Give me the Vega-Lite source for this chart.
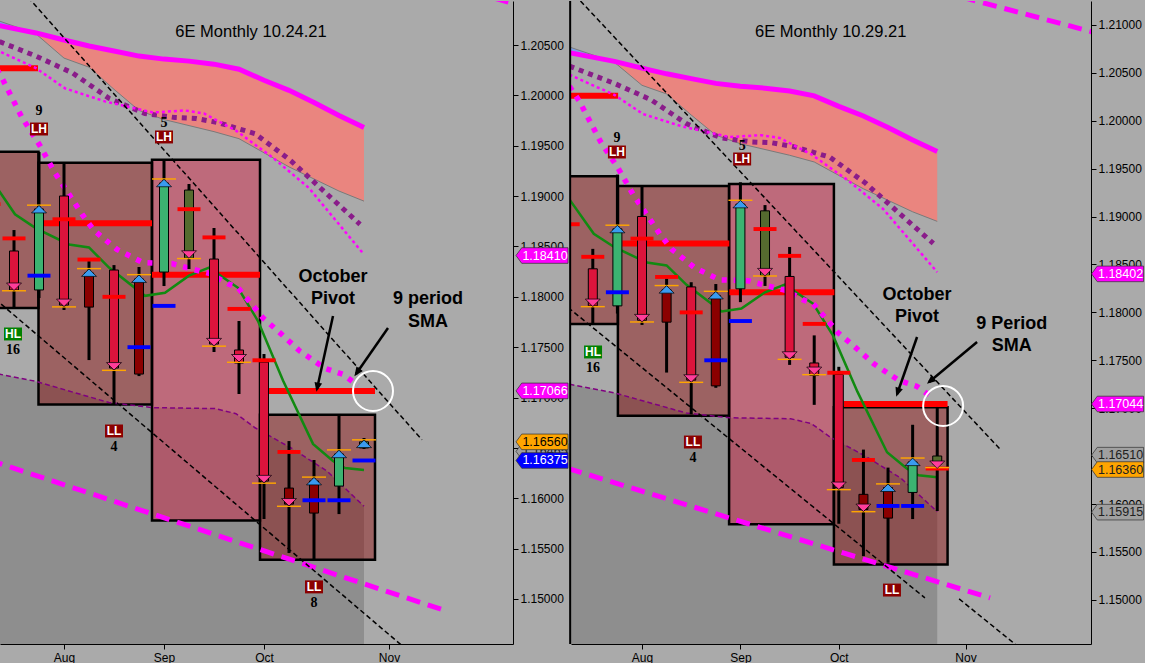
{
"$schema": "https://vega.github.io/schema/vega-lite/v6.json",
"background": "#AAAAAA",
"padding": 0,
"bounds": "flush",
"spacing": 58,
"resolve": {"scale": {"x": "independent", "y": "independent", "fill": "independent"}},
"datasets": {
"bandBlue": [{"i":-0.95,"v":1.2071,"v2":1.2077},{"i":0.88,"v":1.2062,"v2":1.2061}],
"band": [{"i":0.88,"v":1.2062,"v2":1.2061},{"i":2,"v":1.2055,"v2":1.2037},{"i":3,"v":1.2049,"v2":1.2028},{"i":4,"v":1.2044,"v2":1.2006},{"i":5,"v":1.2039,"v2":1.1985},{"i":6,"v":1.2036,"v2":1.1976},{"i":7,"v":1.2034,"v2":1.1970},{"i":8,"v":1.2031,"v2":1.1964},{"i":9,"v":1.2026,"v2":1.1957},{"i":10,"v":1.2015,"v2":1.1943},{"i":11,"v":1.2005,"v2":1.1929},{"i":12,"v":1.1993,"v2":1.1917},{"i":13,"v":1.1980,"v2":1.1905},{"i":14,"v":1.1968,"v2":1.1895}],
"lines": [
{"s":"gl","i":-0.95,"v":1.2077},{"s":"gl","i":0.88,"v":1.2061},{"s":"gl","i":2,"v":1.2037},{"s":"gl","i":3,"v":1.2028},{"s":"gl","i":4,"v":1.2006},{"s":"gl","i":5,"v":1.1985},{"s":"gl","i":6,"v":1.1976},{"s":"gl","i":7,"v":1.1970},{"s":"gl","i":8,"v":1.1964},{"s":"gl","i":9,"v":1.1957},{"s":"gl","i":10,"v":1.1943},{"s":"gl","i":11,"v":1.1929},{"s":"gl","i":12,"v":1.1917},{"s":"gl","i":13,"v":1.1905},{"s":"gl","i":14,"v":1.1895},
{"s":"mag","i":-0.95,"v":1.2071},{"s":"mag","i":0.88,"v":1.2062},{"s":"mag","i":2,"v":1.2055},{"s":"mag","i":3,"v":1.2049},{"s":"mag","i":4,"v":1.2044},{"s":"mag","i":5,"v":1.2039},{"s":"mag","i":6,"v":1.2036},{"s":"mag","i":7,"v":1.2034},{"s":"mag","i":8,"v":1.2031},{"s":"mag","i":9,"v":1.2026},{"s":"mag","i":10,"v":1.2015},{"s":"mag","i":11,"v":1.2005},{"s":"mag","i":12,"v":1.1993},{"s":"mag","i":13,"v":1.1980},{"s":"mag","i":14,"v":1.1968},
{"s":"pd","i":-0.95,"v":1.2057},{"s":"pd","i":0.88,"v":1.2039},{"s":"pd","i":2.36,"v":1.2022},{"s":"pd","i":3.8,"v":1.1997},{"s":"pd","i":5.24,"v":1.1982},{"s":"pd","i":6.44,"v":1.1978},{"s":"pd","i":7.28,"v":1.1977},{"s":"pd","i":8.16,"v":1.1973},{"s":"pd","i":9.64,"v":1.1962},{"s":"pd","i":11.08,"v":1.1935},{"s":"pd","i":12.52,"v":1.1902},{"s":"pd","i":13.84,"v":1.1872},
{"s":"md","i":-0.95,"v":1.2048},{"s":"md","i":0.88,"v":1.2027},{"s":"md","i":2.04,"v":1.2007},{"s":"md","i":3.64,"v":1.1994},{"s":"md","i":5.56,"v":1.1983},{"s":"md","i":6.84,"v":1.1985},{"s":"md","i":7.6,"v":1.1982},{"s":"md","i":8.88,"v":1.1965},{"s":"md","i":10.36,"v":1.1938},{"s":"md","i":11.8,"v":1.1908},{"s":"md","i":14,"v":1.1842},
{"s":"pdl","i":-0.95,"v":1.1725},{"s":"pdl","i":0.88,"v":1.1716},{"s":"pdl","i":3.8,"v":1.1695},{"s":"pdl","i":5.56,"v":1.1690},{"s":"pdl","i":8.04,"v":1.1689},{"s":"pdl","i":8.88,"v":1.1684},{"s":"pdl","i":9.64,"v":1.1670},{"s":"pdl","i":11.08,"v":1.1650},{"s":"pdl","i":12.52,"v":1.1627},{"s":"pdl","i":14,"v":1.1592},
{"s":"grn","i":-0.95,"v":1.1918},{"s":"grn","i":0.04,"v":1.1882},{"s":"grn","i":0.88,"v":1.1868},{"s":"grn","i":2.2,"v":1.1852},{"s":"grn","i":3,"v":1.1849},{"s":"grn","i":3.8,"v":1.1829},{"s":"grn","i":5.24,"v":1.1801},{"s":"grn","i":6.04,"v":1.1804},{"s":"grn","i":7,"v":1.1821},{"s":"grn","i":7.8,"v":1.1829},{"s":"grn","i":8.96,"v":1.1809},{"s":"grn","i":9.76,"v":1.1776},{"s":"grn","i":10.76,"v":1.1717},{"s":"grn","i":11.96,"v":1.1654},{"s":"grn","i":12.76,"v":1.1637},{"s":"grn","i":13.24,"v":1.1630},{"s":"grn","i":14,"v":1.1628},
{"s":"sma","i":-0.95,"v":1.2036},{"s":"sma","i":-0.56,"v":1.2021},{"s":"sma","i":0.32,"v":1.1978},{"s":"sma","i":1.04,"v":1.1950},{"s":"sma","i":1.64,"v":1.1923},{"s":"sma","i":2.72,"v":1.1882},{"s":"sma","i":3.2,"v":1.1866},{"s":"sma","i":4.12,"v":1.1847},{"s":"sma","i":5.16,"v":1.1834},{"s":"sma","i":6.32,"v":1.1833},{"s":"sma","i":7.04,"v":1.1828},{"s":"sma","i":7.84,"v":1.1823},{"s":"sma","i":8.56,"v":1.1813},{"s":"sma","i":8.96,"v":1.1809},{"s":"sma","i":9.96,"v":1.1779},{"s":"sma","i":10.56,"v":1.1766},{"s":"sma","i":11.44,"v":1.1746},{"s":"sma","i":12.44,"v":1.1729},{"s":"sma","i":13.16,"v":1.1723},{"s":"sma","i":13.76,"v":1.1712}
],
"trend": [
{"p":"L","s":"lmd","i":-1,"v":1.1638},{"p":"L","s":"lmd","i":17.3,"v":1.1488},
{"p":"R","s":"lmd","i":-1,"v":1.1637},{"p":"R","s":"lmd","i":16.15,"v":1.1502},
{"p":"L","s":"ubd","i":-0.5,"v":1.2127},{"p":"L","s":"ubd","i":16.32,"v":1.1658},
{"p":"R","s":"ubd","i":-0.5,"v":1.2125},{"p":"R","s":"ubd","i":16.6,"v":1.1656},
{"p":"L","s":"lbd","i":-1,"v":1.1803},{"p":"L","s":"lbd","i":15.6,"v":1.1452},
{"p":"R","s":"lbd","i":-1,"v":1.1805},{"p":"R","s":"lbd","i":13.5,"v":1.1502},
{"p":"R","s":"lbd2","i":14.89,"v":1.1501},{"p":"R","s":"lbd2","i":17.2,"v":1.1453},
{"p":"L","s":"umd","i":15,"v":1.2126},{"p":"L","s":"umd","i":21,"v":1.2084},
{"p":"R","s":"umd","i":15,"v":1.2129},{"p":"R","s":"umd","i":21,"v":1.2088}
],
"pivots": [
{"p":"L","i":-1.5,"i2":0.96,"v":1.2027},{"p":"L","i":1.2,"i2":5.52,"v":1.1873},{"p":"L","i":5.52,"i2":9.84,"v":1.1822},{"p":"L","i":10.16,"i2":14.44,"v":1.17066},
{"p":"R","i":-1.5,"i2":1.03,"v":1.2026},{"p":"R","i":1.2,"i2":5.55,"v":1.1872},{"p":"R","i":5.55,"i2":9.82,"v":1.1821},{"p":"R","i":10.2,"i2":14.42,"v":1.17044}
],
"boxes": [
{"p":"L","i":-1.5,"i2":0.98,"v":1.1789,"v2":1.1944,"c":"d"},{"p":"L","i":0.98,"i2":5.52,"v":1.1693,"v2":1.1933,"c":"d"},{"p":"L","i":5.52,"i2":9.84,"v":1.1578,"v2":1.1936,"c":"r"},{"p":"L","i":9.84,"i2":14.44,"v":1.1539,"v2":1.1683,"c":"d"},
{"p":"R","i":-1.5,"i2":1.02,"v":1.1788,"v2":1.1942,"c":"d"},{"p":"R","i":1.02,"i2":5.54,"v":1.1692,"v2":1.1932,"c":"d"},{"p":"R","i":5.54,"i2":9.8,"v":1.1579,"v2":1.1934,"c":"r"},{"p":"R","i":9.8,"i2":14.42,"v":1.1537,"v2":1.1701,"c":"d"}
],
"wicks": [
{"p":"B","i":0,"v":1.17889,"v2":1.18663},{"p":"B","i":1,"v":1.17988,"v2":1.19438},{"p":"B","i":2,"v":1.17869,"v2":1.19328},{"p":"B","i":3,"v":1.17372,"v2":1.18355},{"p":"B","i":4,"v":1.16936,"v2":1.18315},{"p":"B","i":5,"v":1.17213,"v2":1.18296},{"p":"B","i":6,"v":1.18107,"v2":1.19358},{"p":"B","i":7,"v":1.18276,"v2":1.1912},{"p":"B","i":8,"v":1.17452,"v2":1.18683},{"p":"B","i":9,"v":1.17035,"v2":1.1776},{"p":"B","i":10,"v":1.15794,"v2":1.17432},{"p":"B","i":11,"v":1.15456,"v2":1.16568},{"p":"B","i":12,"v":1.15387,"v2":1.1638},{"p":"B","i":13,"v":1.15843,"v2":1.16827},
{"p":"L","i":14,"v":1.1649,"v2":1.16598},{"p":"R","i":14,"v":1.15927,"v2":1.17013}
],
"bodies": [
{"p":"B","i":0,"v":1.18455,"v2":1.18068,"c":"r"},{"p":"B","i":1,"v":1.18068,"v2":1.18872,"c":"g"},{"p":"B","i":2,"v":1.19001,"v2":1.17918,"c":"r"},{"p":"B","i":3,"v":1.18236,"v2":1.17898,"c":"d"},{"p":"B","i":4,"v":1.18266,"v2":1.17293,"c":"r"},{"p":"B","i":5,"v":1.18177,"v2":1.17233,"c":"d"},{"p":"B","i":6,"v":1.18246,"v2":1.1913,"c":"g"},{"p":"B","i":7,"v":1.1906,"v2":1.18385,"c":"o"},{"p":"B","i":8,"v":1.18375,"v2":1.17531,"c":"r"},{"p":"B","i":9,"v":1.17472,"v2":1.17343,"c":"r"},{"p":"B","i":10,"v":1.17352,"v2":1.16171,"c":"r"},{"p":"B","i":11,"v":1.16101,"v2":1.15942,"c":"d"},{"p":"B","i":12,"v":1.16171,"v2":1.15853,"c":"d"},{"p":"B","i":13,"v":1.16121,"v2":1.16439,"c":"g"},
{"p":"L","i":14,"v":1.165,"v2":1.1656,"c":"g"},{"p":"R","i":14,"v":1.16501,"v2":1.16418,"c":"o"}
],
"ticks": [
{"p":"B","i":-1,"v":1.1892,"c":"R"},{"p":"B","i":0,"v":1.1858,"c":"R"},{"p":"B","i":1,"v":1.1821,"c":"b"},{"p":"B","i":2,"v":1.1877,"c":"R"},{"p":"B","i":3,"v":1.1837,"c":"R"},{"p":"B","i":4,"v":1.18,"c":"R"},{"p":"B","i":5,"v":1.175,"c":"b"},{"p":"B","i":6,"v":1.1791,"c":"b"},{"p":"B","i":7,"v":1.1887,"c":"R"},{"p":"B","i":8,"v":1.1859,"c":"R"},{"p":"B","i":9,"v":1.1788,"c":"R"},{"p":"B","i":10,"v":1.1737,"c":"R"},{"p":"B","i":11,"v":1.1646,"c":"R"},{"p":"B","i":12,"v":1.1598,"c":"b"},{"p":"B","i":13,"v":1.1598,"c":"b"},
{"p":"L","i":14,"v":1.16375,"c":"b"},{"p":"R","i":14,"v":1.1637,"c":"R"}
],
"orange": [
{"p":"B","i":1,"v":1.1891},{"p":"B","i":3,"v":1.1828},{"p":"B","i":5,"v":1.1822},{"p":"B","i":6,"v":1.1917},{"p":"B","i":12,"v":1.1621},{"p":"B","i":13,"v":1.1648},{"p":"L","i":14,"v":1.1658},
{"p":"B","i":0,"v":1.1806},{"p":"B","i":2,"v":1.179},{"p":"B","i":4,"v":1.1727},{"p":"B","i":7,"v":1.1838},{"p":"B","i":8,"v":1.1751},{"p":"B","i":9,"v":1.1735},{"p":"B","i":10,"v":1.1615},{"p":"B","i":11,"v":1.1592},{"p":"R","i":14,"v":1.1638}
],
"tri": [
{"p":"B","i":1,"v":1.1887,"k":"u"},{"p":"B","i":3,"v":1.1824,"k":"u"},{"p":"B","i":5,"v":1.1818,"k":"u"},{"p":"B","i":6,"v":1.1913,"k":"u"},{"p":"B","i":12,"v":1.1617,"k":"u"},{"p":"B","i":13,"v":1.1644,"k":"u"},{"p":"L","i":14,"v":1.1654,"k":"u"},
{"p":"B","i":0,"v":1.181,"k":"d"},{"p":"B","i":2,"v":1.1794,"k":"d"},{"p":"B","i":4,"v":1.1731,"k":"d"},{"p":"B","i":7,"v":1.1842,"k":"d"},{"p":"B","i":8,"v":1.1755,"k":"d"},{"p":"B","i":9,"v":1.1739,"k":"d"},{"p":"B","i":10,"v":1.1619,"k":"d"},{"p":"B","i":11,"v":1.1596,"k":"d"},{"p":"R","i":14,"v":1.1641,"k":"d"}
],
"labels": [
{"p":"L","i":1,"v":1.1984,"t":"9","k":"num"},{"p":"L","i":1,"v":1.19666,"t":"LH","k":"bad"},{"p":"L","i":6,"v":1.1973,"t":"5","k":"num"},{"p":"L","i":6,"v":1.19587,"t":"LH","k":"bad"},{"p":"L","i":-0.04,"v":1.17631,"t":"HL","k":"good"},{"p":"L","i":-0.04,"v":1.17472,"t":"16","k":"num"},{"p":"L","i":4,"v":1.16668,"t":"LL","k":"bad"},{"p":"L","i":4,"v":1.16509,"t":"4","k":"num"},{"p":"L","i":12,"v":1.1512,"t":"LL","k":"bad"},{"p":"L","i":12,"v":1.14961,"t":"8","k":"num"},
{"p":"R","i":0.98,"v":1.1982,"t":"9","k":"num"},{"p":"R","i":0.98,"v":1.19674,"t":"LH","k":"bad"},{"p":"R","i":6.07,"v":1.19737,"t":"5","k":"num"},{"p":"R","i":6.07,"v":1.19601,"t":"LH","k":"bad"},{"p":"R","i":0.01,"v":1.17587,"t":"HL","k":"good"},{"p":"R","i":0.01,"v":1.1742,"t":"16","k":"num"},{"p":"R","i":4.07,"v":1.16647,"t":"LL","k":"bad"},{"p":"R","i":4.07,"v":1.1648,"t":"4","k":"num"},{"p":"R","i":12.16,"v":1.15102,"t":"LL","k":"bad"}
],
"texts": [
{"p":"L","i":9.48,"v":1.20629,"t":"6E Monthly  10.24.21","k":"title"},{"p":"L","i":12.76,"v":1.18197,"t":"October","k":"ann"},{"p":"L","i":12.76,"v":1.17978,"t":"Pivot","k":"ann"},{"p":"L","i":16.56,"v":1.17978,"t":"9 period","k":"ann"},{"p":"L","i":16.56,"v":1.1775,"t":"SMA","k":"ann"},
{"p":"R","i":9.67,"v":1.20927,"t":"6E Monthly  10.29.21","k":"title"},{"p":"R","i":13.18,"v":1.18182,"t":"October","k":"ann"},{"p":"R","i":13.18,"v":1.17952,"t":"Pivot","k":"ann"},{"p":"R","i":17.03,"v":1.17879,"t":"9 Period","k":"ann"},{"p":"R","i":17.03,"v":1.17649,"t":"SMA","k":"ann"}
],
"arrows": [
{"p":"L","n":1,"i":12.76,"v":1.1781,"i2":12.12,"v2":1.17085},{"p":"L","n":2,"i":14.96,"v":1.17691,"i2":13.68,"v2":1.17234},
{"p":"R","n":1,"i":13.18,"v":1.17743,"i2":12.37,"v2":1.17148},{"p":"R","n":2,"i":15.62,"v":1.17691,"i2":13.67,"v2":1.17273}
],
"heads": [
{"p":"L","n":1,"i":12.12,"v":1.17085},{"p":"L","n":2,"i":13.68,"v":1.17234},
{"p":"R","n":1,"i":12.37,"v":1.17148},{"p":"R","n":2,"i":13.67,"v":1.17273}
],
"circles": [{"p":"L","i":14.36,"v":1.17065},{"p":"R","i":14.24,"v":1.17023}],
"tags": [
{"p":"L","i":21.12,"v":1.1841,"t":"1.18410","c":"m"},{"p":"L","i":21.12,"v":1.17066,"t":"1.17066","c":"m"},{"p":"L","i":21.12,"v":1.16465,"t":"1.16465","c":"s"},{"p":"L","i":21.12,"v":1.1656,"t":"1.16560","c":"y"},{"p":"L","i":21.12,"v":1.16375,"t":"1.16375","c":"b"},
{"p":"R","i":21.33,"v":1.18402,"t":"1.18402","c":"m"},{"p":"R","i":21.33,"v":1.17044,"t":"1.17044","c":"m"},{"p":"R","i":21.33,"v":1.1651,"t":"1.16510","c":"s"},{"p":"R","i":21.33,"v":1.1636,"t":"1.16360","c":"y"},{"p":"R","i":21.33,"v":1.15915,"t":"1.15915","c":"s"}
]
},
"hconcat": [
{
"width": 513, "height": 643,
"encoding": {
"x": {"field":"i","type":"quantitative","scale":{"domain":[-0.56,19.96],"nice":false,"zero":false,"padding":0},"axis":{"values":[2,6,10,15],"labelExpr":"datum.value<4?'Aug':datum.value<8?'Sep':datum.value<12?'Oct':'Nov'","labelPadding":3}},
"y": {"field":"v","type":"quantitative","scale":{"domain":[1.14553,1.20937],"nice":false,"zero":false,"padding":0},"axis":{"orient":"right","values":[1.15,1.155,1.16,1.165,1.17,1.175,1.18,1.185,1.19,1.195,1.2,1.205],"format":".5f","labelOverlap":false,"labelPadding":2}}
},
"layer": [
{"data":{"name":"bandBlue"},"mark":{"type":"area","orient":"vertical","color":"#7E9FE6","clip":true},"encoding":{"y2":{"field":"v2"}}},
{"data":{"name":"band"},"mark":{"type":"area","orient":"vertical","color":"#EA857F","clip":true},"encoding":{"y2":{"field":"v2"}}},
{"data":{"name":"lines"},"transform":[{"filter":"datum.s=='pdl'"}],"mark":{"type":"area","orient":"vertical","color":"#8E8E8E","clip":true},"encoding":{"y2":{"datum":1.14}}},
{"data":{"name":"boxes"},"transform":[{"filter":"datum.p!='R'"}],"mark":{"type":"rect","fillOpacity":0.42,"stroke":"black","strokeWidth":2.5,"clip":true},"encoding":{"x2":{"field":"i2"},"y2":{"field":"v2"},"fill":{"field":"c","type":"nominal","legend":null,"scale":{"domain":["g","r","d","o","R","b","m","y","s"],"range":["#3CB371","#DC143C","#8B0000","#556B2F","#FF0000","#0000FF","#FF00FF","#FFA500","#A0A0A0"]}}}},
{"data":{"name":"pivots"},"transform":[{"filter":"datum.p!='R'"}],"mark":{"type":"rule","color":"#FF0000","strokeWidth":6,"clip":true},"encoding":{"x2":{"field":"i2"}}},
{"data":{"name":"lines"},"transform":[{"filter":"datum.s=='gl'"}],"mark":{"type":"line","color":"#7A7A7A","strokeWidth":1,"clip":true},"encoding":{}},
{"data":{"name":"lines"},"transform":[{"filter":"datum.s=='mag'"}],"mark":{"type":"line","color":"#FF00FF","strokeWidth":5,"clip":true},"encoding":{}},
{"data":{"name":"lines"},"transform":[{"filter":"datum.s=='pd'"}],"mark":{"type":"line","color":"#8A1C8A","strokeWidth":5,"strokeDash":[5,5],"clip":true},"encoding":{}},
{"data":{"name":"lines"},"transform":[{"filter":"datum.s=='md'"}],"mark":{"type":"line","color":"#FF00FF","strokeWidth":2.5,"strokeDash":[3,3],"clip":true},"encoding":{}},
{"data":{"name":"lines"},"transform":[{"filter":"datum.s=='pdl'"}],"mark":{"type":"line","color":"#800080","strokeWidth":1.5,"strokeDash":[5,3],"clip":true},"encoding":{}},
{"data":{"name":"lines"},"transform":[{"filter":"datum.s=='grn'"}],"mark":{"type":"line","color":"#118A11","strokeWidth":2.5,"clip":true},"encoding":{}},
{"data":{"name":"lines"},"transform":[{"filter":"datum.s=='sma'"}],"mark":{"type":"line","color":"#FF00FF","strokeWidth":5.5,"strokeDash":[5,7],"clip":true},"encoding":{}},
{"data":{"name":"trend"},"transform":[{"filter":"datum.p=='L' && (datum.s=='lmd' || datum.s=='umd')"}],"mark":{"type":"line","color":"#FF00FF","strokeWidth":5,"strokeDash":[14,8],"clip":true},"encoding":{"detail":{"field":"s"}}},
{"data":{"name":"trend"},"transform":[{"filter":"datum.p=='L' && (datum.s=='ubd' || datum.s=='lbd' || datum.s=='lbd2')"}],"mark":{"type":"line","color":"black","strokeWidth":1.5,"strokeDash":[5,3],"clip":true},"encoding":{"detail":{"field":"s"}}},
{"data":{"name":"wicks"},"transform":[{"filter":"datum.p!='R'"}],"mark":{"type":"rule","color":"black","strokeWidth":3,"clip":true},"encoding":{"y2":{"field":"v2"}}},
{"data":{"name":"bodies"},"transform":[{"filter":"datum.p!='R'"}],"mark":{"type":"bar","width":9,"stroke":"black","strokeWidth":1,"clip":true},"encoding":{"y2":{"field":"v2"},"fill":{"field":"c","type":"nominal","legend":null,"scale":{"domain":["g","r","d","o","R","b","m","y","s"],"range":["#3CB371","#DC143C","#8B0000","#556B2F","#FF0000","#0000FF","#FF00FF","#FFA500","#A0A0A0"]}}}},
{"data":{"name":"ticks"},"transform":[{"filter":"datum.p!='R'"}],"mark":{"type":"point","shape":"M-1,-0.17L1,-0.17L1,0.17L-1,0.17Z","size":529,"filled":true,"opacity":1,"clip":true},"encoding":{"fill":{"field":"c","type":"nominal","legend":null,"scale":{"domain":["g","r","d","o","R","b","m","y","s"],"range":["#3CB371","#DC143C","#8B0000","#556B2F","#FF0000","#0000FF","#FF00FF","#FFA500","#A0A0A0"]}}}},
{"data":{"name":"orange"},"transform":[{"filter":"datum.p!='R'"}],"mark":{"type":"point","shape":"M-1,-0.06L1,-0.06L1,0.06L-1,0.06Z","size":576,"filled":true,"opacity":1,"color":"#FFA500","clip":true},"encoding":{}},
{"data":{"name":"tri"},"transform":[{"filter":"datum.p!='R' && datum.k=='u'"}],"mark":{"type":"point","shape":"M-1,0.5L0,-0.5L1,0.5Z","size":225,"filled":true,"opacity":1,"fill":"#3A9BF0","stroke":"black","strokeWidth":0.7,"clip":true},"encoding":{}},
{"data":{"name":"tri"},"transform":[{"filter":"datum.p!='R' && datum.k=='d'"}],"mark":{"type":"point","shape":"M-1,-0.5L0,0.5L1,-0.5Z","size":225,"filled":true,"opacity":1,"fill":"#FF3D9A","stroke":"black","strokeWidth":0.7,"clip":true},"encoding":{}},
{"data":{"name":"labels"},"transform":[{"filter":"datum.p=='L' && datum.k=='bad'"}],"mark":{"type":"point","shape":"M-1,-0.72L1,-0.72L1,0.72L-1,0.72Z","size":324,"filled":true,"opacity":1,"fill":"#8B0000"},"encoding":{}},
{"data":{"name":"labels"},"transform":[{"filter":"datum.p=='L' && datum.k=='good'"}],"mark":{"type":"point","shape":"M-1,-0.72L1,-0.72L1,0.72L-1,0.72Z","size":324,"filled":true,"opacity":1,"fill":"#008000"},"encoding":{}},
{"data":{"name":"labels"},"transform":[{"filter":"datum.p=='L' && datum.k!='num'"}],"mark":{"type":"text","font":"Liberation Sans","fontSize":12,"fontWeight":"bold","color":"white"},"encoding":{"text":{"field":"t"}}},
{"data":{"name":"labels"},"transform":[{"filter":"datum.p=='L' && datum.k=='num'"}],"mark":{"type":"text","font":"Liberation Serif","fontSize":14,"fontWeight":"bold","color":"black"},"encoding":{"text":{"field":"t"}}},
{"data":{"name":"texts"},"transform":[{"filter":"datum.p=='L' && datum.k=='title'"}],"mark":{"type":"text","font":"Liberation Sans","fontSize":16.5,"color":"black"},"encoding":{"text":{"field":"t"}}},
{"data":{"name":"texts"},"transform":[{"filter":"datum.p=='L' && datum.k=='ann'"}],"mark":{"type":"text","font":"Liberation Sans","fontSize":18,"fontWeight":"bold","color":"black"},"encoding":{"text":{"field":"t"}}},
{"data":{"name":"arrows"},"transform":[{"filter":"datum.p=='L'"}],"mark":{"type":"rule","color":"black","strokeWidth":2.5},"encoding":{"x2":{"field":"i2"},"y2":{"field":"v2"}}},
{"data":{"name":"heads"},"transform":[{"filter":"datum.p=='L' && datum.n==1"}],"mark":{"type":"point","shape":"M0,0.4L-0.55,-0.9L0.55,-0.9Z","size":196,"filled":true,"opacity":1,"color":"black","angle":12},"encoding":{}},
{"data":{"name":"heads"},"transform":[{"filter":"datum.p=='L' && datum.n==2"}],"mark":{"type":"point","shape":"M0,0.4L-0.55,-0.9L0.55,-0.9Z","size":196,"filled":true,"opacity":1,"color":"black","angle":35},"encoding":{}},
{"data":{"name":"circles"},"transform":[{"filter":"datum.p=='L'"}],"mark":{"type":"point","shape":"circle","size":1600,"filled":false,"opacity":1,"stroke":"white","strokeWidth":2},"encoding":{}},
{"data":{"name":"tags"},"transform":[{"filter":"datum.p=='L' && datum.c=='s'"}],"mark":{"type":"point","shape":"M-1,0L-0.78,-0.3L1,-0.3L1,0.3L-0.78,0.3Z","size":2704,"filled":true,"opacity":1,"fill":"#A0A0A0","stroke":"#303030","strokeWidth":0.7},"encoding":{}},
{"data":{"name":"tags"},"transform":[{"filter":"datum.p=='L' && datum.c=='s'"}],"mark":{"type":"text","font":"Liberation Sans","fontSize":12.5,"dx":3,"color":"#202020"},"encoding":{"text":{"field":"t"}}},
{"data":{"name":"tags"},"transform":[{"filter":"datum.p=='L' && datum.c!='s'"}],"mark":{"type":"point","shape":"M-1,0L-0.78,-0.3L1,-0.3L1,0.3L-0.78,0.3Z","size":2704,"filled":true,"opacity":1,"stroke":"#303030","strokeWidth":0.7},"encoding":{"fill":{"field":"c","type":"nominal","legend":null,"scale":{"domain":["g","r","d","o","R","b","m","y","s"],"range":["#3CB371","#DC143C","#8B0000","#556B2F","#FF0000","#0000FF","#FF00FF","#FFA500","#A0A0A0"]}}}},
{"data":{"name":"tags"},"transform":[{"filter":"datum.p=='L' && datum.c!='s'"}],"mark":{"type":"text","font":"Liberation Sans","fontSize":12.5,"dx":3},"encoding":{"text":{"field":"t"},"color":{"condition":{"test":"datum.c=='m' || datum.c=='b'","value":"white"},"value":"black"}}}
]
},
{
"width": 520, "height": 643,
"encoding": {
"x": {"field":"i","type":"quantitative","scale":{"domain":[-0.886,20.25],"nice":false,"zero":false,"padding":0},"axis":{"values":[2,6,10,15.15],"labelExpr":"datum.value<4?'Aug':datum.value<8?'Sep':datum.value<12?'Oct':'Nov'","labelPadding":3}},
"y": {"field":"v","type":"quantitative","scale":{"domain":[1.14539,1.2125],"nice":false,"zero":false,"padding":0},"axis":{"orient":"right","values":[1.15,1.155,1.16,1.165,1.17,1.175,1.18,1.185,1.19,1.195,1.2,1.205,1.21],"format":".5f","labelOverlap":false,"labelPadding":2}}
},
"layer": [
{"data":{"name":"bandBlue"},"mark":{"type":"area","orient":"vertical","color":"#7E9FE6","clip":true},"encoding":{"y2":{"field":"v2"}}},
{"data":{"name":"band"},"mark":{"type":"area","orient":"vertical","color":"#EA857F","clip":true},"encoding":{"y2":{"field":"v2"}}},
{"data":{"name":"lines"},"transform":[{"filter":"datum.s=='pdl'"}],"mark":{"type":"area","orient":"vertical","color":"#8E8E8E","clip":true},"encoding":{"y2":{"datum":1.14}}},
{"data":{"name":"boxes"},"transform":[{"filter":"datum.p!='L'"}],"mark":{"type":"rect","fillOpacity":0.42,"stroke":"black","strokeWidth":2.5,"clip":true},"encoding":{"x2":{"field":"i2"},"y2":{"field":"v2"},"fill":{"field":"c","type":"nominal","legend":null,"scale":{"domain":["g","r","d","o","R","b","m","y","s"],"range":["#3CB371","#DC143C","#8B0000","#556B2F","#FF0000","#0000FF","#FF00FF","#FFA500","#A0A0A0"]}}}},
{"data":{"name":"pivots"},"transform":[{"filter":"datum.p!='L'"}],"mark":{"type":"rule","color":"#FF0000","strokeWidth":6,"clip":true},"encoding":{"x2":{"field":"i2"}}},
{"data":{"name":"lines"},"transform":[{"filter":"datum.s=='gl'"}],"mark":{"type":"line","color":"#7A7A7A","strokeWidth":1,"clip":true},"encoding":{}},
{"data":{"name":"lines"},"transform":[{"filter":"datum.s=='mag'"}],"mark":{"type":"line","color":"#FF00FF","strokeWidth":5,"clip":true},"encoding":{}},
{"data":{"name":"lines"},"transform":[{"filter":"datum.s=='pd'"}],"mark":{"type":"line","color":"#8A1C8A","strokeWidth":5,"strokeDash":[5,5],"clip":true},"encoding":{}},
{"data":{"name":"lines"},"transform":[{"filter":"datum.s=='md'"}],"mark":{"type":"line","color":"#FF00FF","strokeWidth":2.5,"strokeDash":[3,3],"clip":true},"encoding":{}},
{"data":{"name":"lines"},"transform":[{"filter":"datum.s=='pdl'"}],"mark":{"type":"line","color":"#800080","strokeWidth":1.5,"strokeDash":[5,3],"clip":true},"encoding":{}},
{"data":{"name":"lines"},"transform":[{"filter":"datum.s=='grn'"}],"mark":{"type":"line","color":"#118A11","strokeWidth":2.5,"clip":true},"encoding":{}},
{"data":{"name":"lines"},"transform":[{"filter":"datum.s=='sma'"}],"mark":{"type":"line","color":"#FF00FF","strokeWidth":5.5,"strokeDash":[5,7],"clip":true},"encoding":{}},
{"data":{"name":"trend"},"transform":[{"filter":"datum.p=='R' && (datum.s=='lmd' || datum.s=='umd')"}],"mark":{"type":"line","color":"#FF00FF","strokeWidth":5,"strokeDash":[14,8],"clip":true},"encoding":{"detail":{"field":"s"}}},
{"data":{"name":"trend"},"transform":[{"filter":"datum.p=='R' && (datum.s=='ubd' || datum.s=='lbd' || datum.s=='lbd2')"}],"mark":{"type":"line","color":"black","strokeWidth":1.5,"strokeDash":[5,3],"clip":true},"encoding":{"detail":{"field":"s"}}},
{"data":{"name":"wicks"},"transform":[{"filter":"datum.p!='L'"}],"mark":{"type":"rule","color":"black","strokeWidth":3,"clip":true},"encoding":{"y2":{"field":"v2"}}},
{"data":{"name":"bodies"},"transform":[{"filter":"datum.p!='L'"}],"mark":{"type":"bar","width":9,"stroke":"black","strokeWidth":1,"clip":true},"encoding":{"y2":{"field":"v2"},"fill":{"field":"c","type":"nominal","legend":null,"scale":{"domain":["g","r","d","o","R","b","m","y","s"],"range":["#3CB371","#DC143C","#8B0000","#556B2F","#FF0000","#0000FF","#FF00FF","#FFA500","#A0A0A0"]}}}},
{"data":{"name":"ticks"},"transform":[{"filter":"datum.p!='L'"}],"mark":{"type":"point","shape":"M-1,-0.17L1,-0.17L1,0.17L-1,0.17Z","size":529,"filled":true,"opacity":1,"clip":true},"encoding":{"fill":{"field":"c","type":"nominal","legend":null,"scale":{"domain":["g","r","d","o","R","b","m","y","s"],"range":["#3CB371","#DC143C","#8B0000","#556B2F","#FF0000","#0000FF","#FF00FF","#FFA500","#A0A0A0"]}}}},
{"data":{"name":"orange"},"transform":[{"filter":"datum.p!='L'"}],"mark":{"type":"point","shape":"M-1,-0.06L1,-0.06L1,0.06L-1,0.06Z","size":576,"filled":true,"opacity":1,"color":"#FFA500","clip":true},"encoding":{}},
{"data":{"name":"tri"},"transform":[{"filter":"datum.p!='L' && datum.k=='u'"}],"mark":{"type":"point","shape":"M-1,0.5L0,-0.5L1,0.5Z","size":225,"filled":true,"opacity":1,"fill":"#3A9BF0","stroke":"black","strokeWidth":0.7,"clip":true},"encoding":{}},
{"data":{"name":"tri"},"transform":[{"filter":"datum.p!='L' && datum.k=='d'"}],"mark":{"type":"point","shape":"M-1,-0.5L0,0.5L1,-0.5Z","size":225,"filled":true,"opacity":1,"fill":"#FF3D9A","stroke":"black","strokeWidth":0.7,"clip":true},"encoding":{}},
{"data":{"name":"labels"},"transform":[{"filter":"datum.p=='R' && datum.k=='bad'"}],"mark":{"type":"point","shape":"M-1,-0.72L1,-0.72L1,0.72L-1,0.72Z","size":324,"filled":true,"opacity":1,"fill":"#8B0000"},"encoding":{}},
{"data":{"name":"labels"},"transform":[{"filter":"datum.p=='R' && datum.k=='good'"}],"mark":{"type":"point","shape":"M-1,-0.72L1,-0.72L1,0.72L-1,0.72Z","size":324,"filled":true,"opacity":1,"fill":"#008000"},"encoding":{}},
{"data":{"name":"labels"},"transform":[{"filter":"datum.p=='R' && datum.k!='num'"}],"mark":{"type":"text","font":"Liberation Sans","fontSize":12,"fontWeight":"bold","color":"white"},"encoding":{"text":{"field":"t"}}},
{"data":{"name":"labels"},"transform":[{"filter":"datum.p=='R' && datum.k=='num'"}],"mark":{"type":"text","font":"Liberation Serif","fontSize":14,"fontWeight":"bold","color":"black"},"encoding":{"text":{"field":"t"}}},
{"data":{"name":"texts"},"transform":[{"filter":"datum.p=='R' && datum.k=='title'"}],"mark":{"type":"text","font":"Liberation Sans","fontSize":16.5,"color":"black"},"encoding":{"text":{"field":"t"}}},
{"data":{"name":"texts"},"transform":[{"filter":"datum.p=='R' && datum.k=='ann'"}],"mark":{"type":"text","font":"Liberation Sans","fontSize":18,"fontWeight":"bold","color":"black"},"encoding":{"text":{"field":"t"}}},
{"data":{"name":"arrows"},"transform":[{"filter":"datum.p=='R'"}],"mark":{"type":"rule","color":"black","strokeWidth":2.5},"encoding":{"x2":{"field":"i2"},"y2":{"field":"v2"}}},
{"data":{"name":"heads"},"transform":[{"filter":"datum.p=='R' && datum.n==1"}],"mark":{"type":"point","shape":"M0,0.4L-0.55,-0.9L0.55,-0.9Z","size":196,"filled":true,"opacity":1,"color":"black","angle":19},"encoding":{}},
{"data":{"name":"heads"},"transform":[{"filter":"datum.p=='R' && datum.n==2"}],"mark":{"type":"point","shape":"M0,0.4L-0.55,-0.9L0.55,-0.9Z","size":196,"filled":true,"opacity":1,"color":"black","angle":50},"encoding":{}},
{"data":{"name":"circles"},"transform":[{"filter":"datum.p=='R'"}],"mark":{"type":"point","shape":"circle","size":1600,"filled":false,"opacity":1,"stroke":"white","strokeWidth":2},"encoding":{}},
{"data":{"values":[{"i":-0.92,"v":1.14539,"v2":1.2125}]},"mark":{"type":"rule","color":"black","strokeWidth":2},"encoding":{"y2":{"field":"v2"}}},
{"data":{"name":"tags"},"transform":[{"filter":"datum.p=='R'"}],"mark":{"type":"point","shape":"M-1,0L-0.78,-0.3L1,-0.3L1,0.3L-0.78,0.3Z","size":2704,"filled":true,"opacity":1,"stroke":"#303030","strokeWidth":0.7},"encoding":{"fill":{"field":"c","type":"nominal","legend":null,"scale":{"domain":["g","r","d","o","R","b","m","y","s"],"range":["#3CB371","#DC143C","#8B0000","#556B2F","#FF0000","#0000FF","#FF00FF","#FFA500","#A0A0A0"]}}}},
{"data":{"name":"tags"},"transform":[{"filter":"datum.p=='R'"}],"mark":{"type":"text","font":"Liberation Sans","fontSize":12.5,"dx":3},"encoding":{"text":{"field":"t"},"color":{"condition":{"test":"datum.c=='m' || datum.c=='b'","value":"white"},"value":"#202020"}}}
]
}
],
"config": {
"view": {"stroke": null},
"axis": {"domainColor":"black","domainWidth":1,"tickColor":"black","tickSize":5,"labelColor":"black","labelFont":"Liberation Sans","labelFontSize":12,"grid":false,"title":null}
}
}
